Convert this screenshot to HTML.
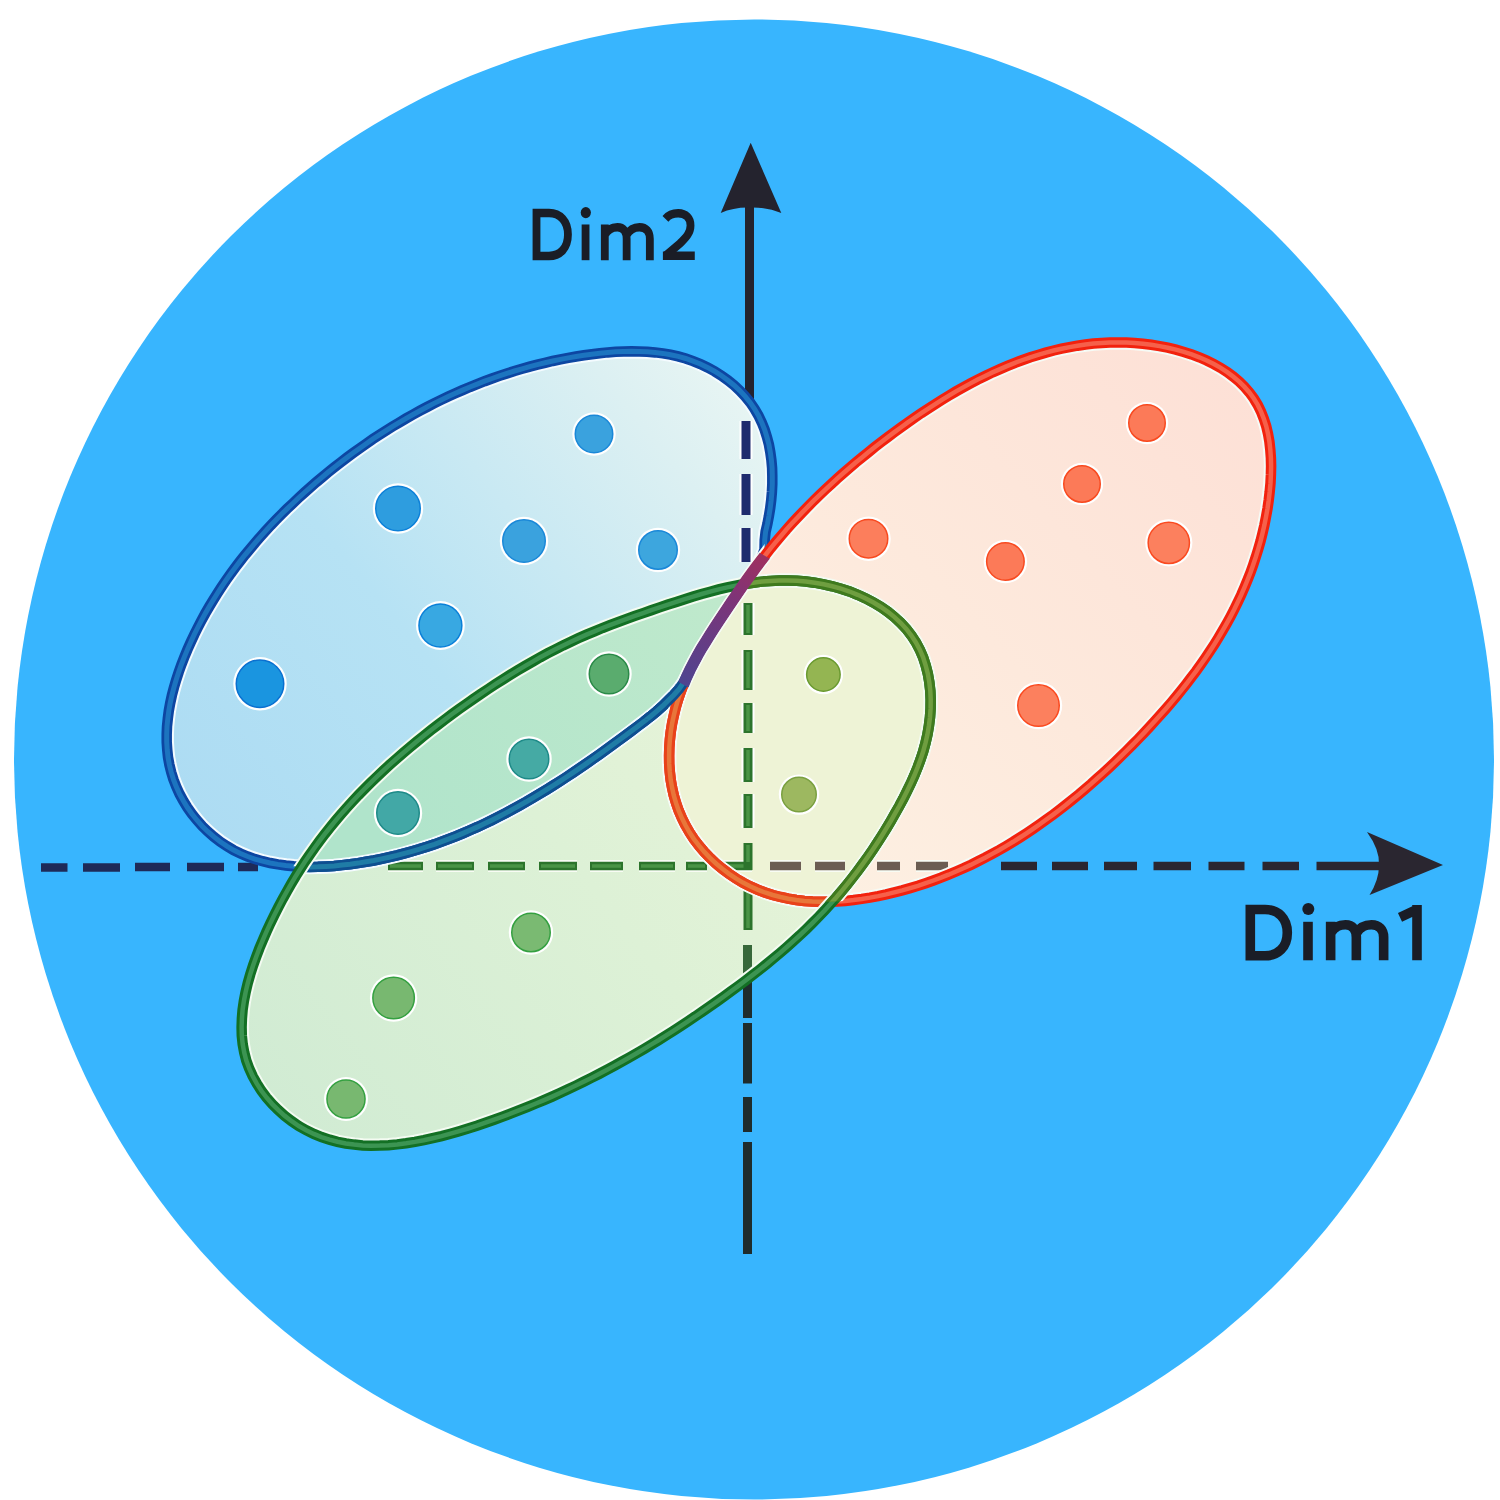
<!DOCTYPE html>
<html>
<head>
<meta charset="utf-8">
<style>
html,body{margin:0;padding:0;background:#fff;}
body{width:1500px;height:1500px;overflow:hidden;}
svg{display:block;}
.lbl{font-family:"Liberation Sans",sans-serif;font-weight:bold;fill:#1c2128;}
</style>
</head>
<body>
<svg width="1500" height="1500" viewBox="0 0 1500 1500">
<defs>
  <path id="eb" d="M173.5 779.6 171.2 772.2 169.4 764.8 168.0 757.2 167.2 749.6 166.7 742.0 166.7 734.2 167.0 726.5 167.8 718.7 168.8 710.9 170.2 703.1 171.9 695.3 173.9 687.6 176.2 679.8 178.7 672.1 181.4 664.5 184.4 656.9 187.5 649.4 190.8 642.0 194.2 634.7 197.8 627.5 201.5 620.4 205.3 613.4 209.3 606.5 213.4 599.7 217.6 593.0 221.9 586.4 226.3 579.9 230.8 573.5 235.5 567.2 240.2 561.0 245.1 554.8 250.1 548.8 255.1 542.8 260.3 536.9 265.5 531.1 270.8 525.3 276.2 519.7 281.7 514.1 287.3 508.6 293.0 503.2 298.7 497.8 304.5 492.5 310.4 487.3 316.3 482.1 322.3 477.1 328.4 472.0 334.5 467.1 340.7 462.3 347.0 457.5 353.4 452.8 359.8 448.2 366.2 443.7 372.7 439.2 379.3 434.9 386.0 430.6 392.7 426.4 399.4 422.4 406.2 418.4 413.1 414.5 420.0 410.7 427.0 407.0 434.0 403.4 441.1 399.9 448.2 396.5 455.4 393.3 462.6 390.1 469.9 387.0 477.2 384.1 484.6 381.2 492.0 378.5 499.4 375.9 506.9 373.4 514.5 371.0 522.1 368.8 529.7 366.6 537.3 364.6 545.0 362.8 552.7 361.0 560.5 359.4 568.3 357.9 576.1 356.5 584.0 355.3 591.9 354.2 599.8 353.2 607.7 352.4 615.7 351.8 623.6 351.4 631.5 351.3 639.4 351.4 647.3 351.7 655.1 352.4 662.9 353.4 670.5 354.7 678.2 356.4 685.7 358.5 693.1 361.1 700.4 364.0 707.5 367.4 714.5 371.2 721.3 375.5 727.8 380.2 734.0 385.2 739.8 390.6 745.2 396.4 750.1 402.4 754.5 408.8 758.4 415.5 761.7 422.4 764.6 429.6 766.9 437.0 768.9 444.5 770.3 452.2 771.4 460.1 772.1 468.0 772.3 476.0 772.3 484.0 771.9 492.1 771.2 500.2 770.2 508.2 768.9 516.1 767.4 524.0 765.6 531.7 764.7 540.2 764.5 549.3 762.1 556.8 758.6 563.4 754.0 570.0 749.6 576.0 745.4 582.0 740.7 588.7 736.0 595.4 731.9 601.5 727.4 608.3 722.8 615.1 718.8 621.2 714.3 628.0 710.0 634.8 705.7 641.7 701.5 648.5 697.9 654.8 694.0 661.9 690.4 669.0 686.9 676.2 683.4 682.8 679.0 689.1 673.8 695.0 668.2 700.5 662.7 706.0 656.8 711.2 650.8 716.2 644.6 721.1 638.2 725.9 631.8 730.7 625.4 735.5 618.9 740.2 612.4 745.0 605.9 749.7 599.4 754.4 592.9 759.0 586.3 763.6 579.7 768.1 573.1 772.6 566.5 777.0 559.8 781.3 553.2 785.5 546.5 789.7 539.7 793.8 533.0 797.8 526.2 801.8 519.4 805.6 512.5 809.4 505.6 813.1 498.7 816.7 491.7 820.2 484.7 823.6 477.6 826.9 470.5 830.0 463.4 833.1 456.2 836.1 449.0 838.9 441.7 841.6 434.4 844.3 427.0 846.7 419.6 849.1 412.1 851.3 404.5 853.4 396.9 855.4 389.3 857.2 381.6 858.9 373.8 860.5 366.0 861.8 358.1 863.1 350.1 864.2 342.1 865.1 334.1 865.9 326.0 866.4 317.9 866.8 309.8 866.9 301.7 866.7 293.7 866.3 285.8 865.5 277.9 864.4 270.2 863.0 262.5 861.2 255.0 859.1 247.7 856.5 240.5 853.5 233.5 850.1 226.8 846.1 220.3 841.8 214.0 836.9 208.0 831.7 202.3 826.2 197.0 820.2 192.0 814.0 187.4 807.5 183.3 800.8 179.5 793.9 176.3 786.8Z"/>
  <path id="eg" d="M246.3 1060.6 244.2 1052.4 242.7 1044.2 241.8 1035.7 241.6 1027.2 241.9 1018.5 242.6 1009.8 243.9 1001.0 245.6 992.2 247.7 983.4 250.2 974.5 253.0 965.7 256.1 957.0 259.4 948.3 263.0 939.7 266.7 931.2 270.5 922.9 274.5 914.7 278.6 906.7 282.7 898.9 287.0 891.2 291.3 883.6 295.7 876.2 300.3 868.9 304.9 861.7 309.7 854.7 314.6 847.7 319.6 840.9 324.7 834.1 330.0 827.5 335.4 820.9 340.9 814.4 346.6 807.9 352.4 801.5 358.3 795.2 364.4 789.0 370.6 782.8 376.9 776.7 383.3 770.7 389.8 764.7 396.4 758.8 403.1 753.0 409.9 747.2 416.7 741.6 423.6 736.0 430.6 730.4 437.7 725.0 444.8 719.6 451.9 714.3 459.1 709.1 466.3 704.0 473.6 698.9 480.9 693.9 488.2 689.0 495.5 684.2 502.9 679.5 510.3 674.8 517.7 670.3 525.2 665.9 532.7 661.6 540.2 657.3 547.8 653.2 555.4 649.3 563.1 645.4 570.9 641.7 578.7 638.1 586.5 634.6 594.5 631.3 602.4 628.0 610.5 624.9 618.6 621.8 626.7 618.9 634.9 615.9 643.1 613.1 651.3 610.2 659.6 607.4 668.0 604.6 676.3 601.9 684.7 599.2 693.1 596.6 701.6 594.0 710.1 591.7 718.6 589.4 727.2 587.4 735.8 585.6 744.4 584.0 753.1 582.7 761.8 581.6 770.5 580.9 779.3 580.5 788.1 580.4 797.0 580.8 805.9 581.5 814.7 582.7 823.6 584.3 832.3 586.3 841.0 588.7 849.5 591.5 857.7 594.8 865.7 598.4 873.5 602.5 880.9 607.0 887.9 611.8 894.5 617.1 900.6 622.8 906.3 628.9 911.4 635.5 915.9 642.4 919.8 649.7 923.1 657.4 925.7 665.5 927.8 673.7 929.3 682.2 930.3 690.9 930.7 699.6 930.6 708.4 930.0 717.2 928.9 725.9 927.4 734.6 925.5 743.0 923.2 751.4 920.5 759.6 917.5 767.6 914.3 775.5 910.8 783.3 907.1 790.9 903.3 798.5 899.3 806.0 895.1 813.4 890.9 820.8 886.5 828.2 882.0 835.5 877.4 842.7 872.7 849.8 867.8 856.9 862.8 863.9 857.7 870.8 852.5 877.6 847.1 884.4 841.6 891.1 836.0 897.7 830.2 904.2 824.4 910.7 818.4 917.0 812.2 923.3 806.0 929.4 799.6 935.5 793.1 941.4 786.5 947.3 779.8 953.1 773.0 958.8 766.2 964.4 759.2 970.0 752.2 975.4 745.2 980.8 738.1 986.1 731.0 991.3 723.9 996.5 716.7 1001.6 709.5 1006.6 702.3 1011.6 695.2 1016.5 687.9 1021.3 680.7 1026.1 673.4 1030.8 666.2 1035.4 658.9 1040.0 651.5 1044.4 644.1 1048.9 636.7 1053.2 629.3 1057.5 621.8 1061.7 614.2 1065.9 606.7 1069.9 599.0 1074.0 591.3 1077.9 583.6 1081.8 575.8 1085.6 568.0 1089.3 560.0 1093.0 552.1 1096.6 544.0 1100.1 535.9 1103.5 527.7 1106.9 519.4 1110.2 511.1 1113.4 502.6 1116.6 494.1 1119.7 485.5 1122.7 476.9 1125.7 468.1 1128.5 459.3 1131.2 450.5 1133.7 441.6 1136.1 432.7 1138.2 423.8 1140.2 414.9 1141.9 406.1 1143.3 397.2 1144.4 388.5 1145.2 379.8 1145.6 371.1 1145.7 362.6 1145.4 354.1 1144.6 345.8 1143.5 337.5 1141.8 329.5 1139.7 321.5 1137.1 313.8 1133.9 306.2 1130.2 298.8 1126.0 291.7 1121.2 284.8 1115.9 278.4 1110.2 272.3 1104.1 266.6 1097.6 261.4 1090.8 256.8 1083.6 252.7 1076.2 249.2 1068.5Z"/>
  <path id="er" d="M685.5 825.3 681.9 818.1 678.7 810.7 676.1 803.2 673.8 795.5 672.1 787.8 670.7 779.9 669.8 771.9 669.2 763.9 669.1 755.8 669.3 747.7 669.9 739.6 670.8 731.5 672.1 723.5 673.8 715.5 675.7 707.6 678.0 699.8 680.6 692.1 683.5 684.5 686.6 677.0 690.0 669.7 693.7 662.6 697.5 655.5 701.5 648.5 705.7 641.7 710.0 634.8 714.3 628.0 718.8 621.2 723.3 614.4 727.8 607.6 732.4 600.8 737.0 594.1 741.6 587.3 746.3 580.6 751.1 574.0 755.9 567.4 760.8 560.9 765.8 554.5 770.8 548.1 775.9 541.9 781.2 535.7 786.4 529.6 791.8 523.6 797.3 517.7 802.8 511.9 808.4 506.1 814.0 500.4 819.8 494.8 825.6 489.3 831.5 483.8 837.4 478.4 843.5 473.0 849.6 467.8 855.7 462.5 862.0 457.4 868.3 452.3 874.6 447.2 881.1 442.2 887.6 437.3 894.1 432.4 900.8 427.5 907.5 422.7 914.2 418.0 921.0 413.3 927.9 408.8 934.9 404.3 941.9 399.9 948.9 395.6 956.0 391.4 963.2 387.4 970.5 383.4 977.7 379.6 985.1 376.0 992.5 372.4 1000.0 369.1 1007.5 365.9 1015.0 362.8 1022.7 360.0 1030.3 357.3 1038.0 354.9 1045.8 352.6 1053.7 350.5 1061.5 348.7 1069.5 347.1 1077.4 345.7 1085.5 344.5 1093.5 343.6 1101.7 343.0 1109.8 342.6 1118.0 342.4 1126.3 342.6 1134.6 343.0 1142.9 343.7 1151.3 344.8 1159.6 346.1 1167.8 347.7 1175.9 349.6 1183.9 351.9 1191.7 354.4 1199.3 357.3 1206.7 360.5 1213.9 364.1 1220.7 367.9 1227.2 372.1 1233.4 376.7 1239.2 381.6 1244.5 386.9 1249.4 392.5 1253.8 398.5 1257.7 404.9 1261.0 411.6 1263.8 418.7 1266.2 426.1 1268.0 433.7 1269.4 441.6 1270.3 449.7 1270.9 457.9 1271.1 466.2 1270.9 474.7 1270.5 483.2 1269.7 491.7 1268.7 500.2 1267.5 508.6 1266.0 516.9 1264.4 525.1 1262.5 533.2 1260.5 541.3 1258.2 549.2 1255.8 557.0 1253.2 564.8 1250.5 572.5 1247.5 580.0 1244.4 587.5 1241.2 594.9 1237.7 602.2 1234.2 609.5 1230.5 616.6 1226.6 623.7 1222.6 630.7 1218.5 637.6 1214.3 644.4 1209.9 651.2 1205.4 657.9 1200.8 664.5 1196.1 671.1 1191.2 677.5 1186.3 684.0 1181.3 690.3 1176.2 696.6 1171.0 702.8 1165.7 709.0 1160.3 715.1 1154.9 721.1 1149.4 727.1 1143.8 733.1 1138.2 739.0 1132.5 744.8 1126.7 750.6 1120.9 756.3 1115.1 762.0 1109.2 767.6 1103.2 773.1 1097.1 778.5 1091.1 783.9 1084.9 789.2 1078.7 794.5 1072.4 799.6 1066.1 804.7 1059.7 809.7 1053.2 814.6 1046.7 819.3 1040.1 824.0 1033.5 828.6 1026.8 833.1 1020.0 837.5 1013.2 841.8 1006.3 845.9 999.3 850.0 992.2 853.9 985.1 857.7 978.0 861.3 970.7 864.9 963.4 868.3 956.0 871.5 948.5 874.7 941.0 877.7 933.4 880.5 925.7 883.2 918.0 885.8 910.1 888.1 902.2 890.4 894.3 892.4 886.2 894.4 878.1 896.1 869.9 897.6 861.7 898.9 853.5 900.0 845.3 900.9 837.0 901.5 828.8 901.8 820.6 901.8 812.5 901.5 804.3 900.9 796.3 900.0 788.3 898.7 780.5 897.0 772.7 895.0 765.0 892.5 757.5 889.6 750.1 886.3 742.9 882.6 735.8 878.4 729.0 873.8 722.4 868.8 716.0 863.5 710.0 857.8 704.3 851.9 699.0 845.6 694.0 839.1 689.5 832.3Z"/>
  <clipPath id="cb"><use href="#eb"/></clipPath>
  <clipPath id="cg"><use href="#eg"/></clipPath>
  <clipPath id="cr"><use href="#er"/></clipPath>
  <clipPath id="csplit"><path d="M700 660L706 672L666 726L636 716L640 700Z"/></clipPath>
  <clipPath id="cbw"><use href="#eb"/><use href="#eg"/></clipPath>
  <clipPath id="call"><use href="#eb"/><use href="#eg"/><use href="#er"/></clipPath>
  <linearGradient id="gb" gradientUnits="userSpaceOnUse" x1="200" y1="820" x2="740" y2="380">
    <stop offset="0" stop-color="#addcf3"/>
    <stop offset="0.4" stop-color="#b6e2f4"/>
    <stop offset="0.85" stop-color="#dcf0f2"/>
    <stop offset="1" stop-color="#e8f5f3"/>
  </linearGradient>
  <linearGradient id="gg" gradientUnits="userSpaceOnUse" x1="260" y1="1120" x2="900" y2="620">
    <stop offset="0" stop-color="#d0ebd3"/>
    <stop offset="0.5" stop-color="#ddf1d6"/>
    <stop offset="1" stop-color="#eef5da"/>
  </linearGradient>
  <linearGradient id="gr" gradientUnits="userSpaceOnUse" x1="700" y1="880" x2="1250" y2="370">
    <stop offset="0" stop-color="#fdf2e4"/>
    <stop offset="0.5" stop-color="#fde9dc"/>
    <stop offset="1" stop-color="#fde0d6"/>
  </linearGradient>
  <linearGradient id="gbg" gradientUnits="userSpaceOnUse" x1="380" y1="830" x2="720" y2="600">
    <stop offset="0" stop-color="#b0e4cb"/>
    <stop offset="1" stop-color="#bfe9cc"/>
  </linearGradient>
  <clipPath id="cpur"><path d="M773.7 560.8L742.3 543.2L668.3 676.2L699.7 693.8Z"/></clipPath>
  <linearGradient id="gpur" gradientUnits="userSpaceOnUse" x1="760" y1="552" x2="684" y2="686">
    <stop offset="0" stop-color="#a0305e"/>
    <stop offset="0.35" stop-color="#7e3478"/>
    <stop offset="1" stop-color="#4e4490"/>
  </linearGradient>
</defs>

<circle cx="754" cy="759.5" r="740" fill="#38b5fe"/>

<!-- fills -->
<use href="#eb" fill="url(#gb)"/>
<use href="#er" fill="url(#gr)"/>
<use href="#eg" fill="url(#gg)"/>
<g clip-path="url(#cb)"><use href="#eg" fill="url(#gbg)"/></g>
<g clip-path="url(#cr)"><use href="#eg" fill="#eef3d6"/></g>

<!-- horizontal axis -->
<g stroke-width="8.5" fill="none">
  <path stroke="#1e2a58" d="M41 867.5H67.5M83 867.5H120M135 867H170M187 867H224M238 867H258"/>
  <path stroke="#f8fcf4" stroke-width="12" d="M388 866H423M436 866H474M488 866H525M539 866H577M590 866H623M639 866H675M686 866H707M723.5 866H752M770 866H801M815 866H845M877 866H900M916 866H948"/>
  <path stroke="#2c742c" d="M388 866H423M436 866H474M488 866H525M539 866H577M590 866H623M639 866H675M686 866H707M723.5 866H752"/>
  <path stroke="#4a9446" stroke-width="3.5" d="M390 866H421M438 866H472M490 866H523M541 866H575M592 866H621M641 866H673M688 866H705M725.5 866H744"/>
  <path stroke="#6b5d52" d="M770 866H801M815 866H845M877 866H900M916 866H948"/>
  <path stroke="#2a2630" d="M1001 866H1037M1052 866H1088M1104 866H1137M1153.5 866H1191M1208.5 866H1244.5M1262.5 866H1299M1316.5 866H1385"/>
</g>
<path fill="#2a2630" d="M1443 865L1367 832Q1380 850 1379 865Q1379 880 1369.5 895Z"/>

<!-- vertical axis -->
<path stroke="#24232e" stroke-width="9" d="M749.5 205V400"/>
<path fill="#24232e" d="M750.7 142.7L781.3 213Q766 207 750 207.5Q734 207 720.7 213Z"/>
<g stroke-width="9" fill="none">
  <path stroke="#ffffff" stroke-width="13" d="M746 421V459M746 474V515M746 528V562M748 603V635M748 650V690M748 703V733M748 748V782M748 794V828"/>
  <path stroke="#1f2b6e" d="M746 421V459M746 474V515M746 528V562"/>
  <path stroke="#2c742c" d="M748 603V635M748 650V690M748 703V733M748 748V782M748 794V828M748 843V870M748 890V930"/>
  <path stroke="#4a9446" stroke-width="3.5" d="M748 605V633M748 652V688M748 705V731M748 750V780M748 796V826M748 845V862M748 892V928"/>
  <path stroke="#1f2c2c" d="M747.5 945V1018M747.5 1023V1083.5M747.5 1097V1132M747.5 1142V1254"/>
  <g clip-path="url(#cg)"><path stroke="#37683a" d="M747.5 945V1018"/></g>
</g>

<!-- strokes -->
<g fill="none">
  <g clip-path="url(#cbw)"><use href="#eb" stroke="#f4fbff" stroke-width="14.5"/></g>
  <use href="#eb" stroke="#0d46a2" stroke-width="10.5"/>
  <use href="#eb" stroke="#1c74bf" stroke-width="5"/>
  <g clip-path="url(#cg)"><use href="#eb" stroke="#0e4f90" stroke-width="10.5"/><use href="#eb" stroke="#1f7ca6" stroke-width="5"/></g>
  <g clip-path="url(#call)"><use href="#er" stroke="#f6fbf6" stroke-width="14.5"/></g>
  <use href="#er" stroke="#f2220e" stroke-width="10.5"/>
  <use href="#er" stroke="#f6604a" stroke-width="4.5"/>
  <g clip-path="url(#cg)"><use href="#er" stroke="#e8421a" stroke-width="10.5"/><use href="#er" stroke="#e8763a" stroke-width="4.5"/></g>
  <g clip-path="url(#csplit)"><use href="#eb" stroke="#0e4f90" stroke-width="10.5"/><use href="#eb" stroke="#1f7ca6" stroke-width="5"/></g>
  <g clip-path="url(#call)"><use href="#eg" stroke="#f4fbf2" stroke-width="14.5"/></g>
  <use href="#eg" stroke="#137024" stroke-width="10.5"/>
  <use href="#eg" stroke="#3c9452" stroke-width="4.5"/>
  <g clip-path="url(#cr)"><use href="#eg" stroke="#3f7a1e" stroke-width="10.5"/><use href="#eg" stroke="#6f9e40" stroke-width="4.5"/></g>
  <g clip-path="url(#cpur)"><use href="#er" stroke="url(#gpur)" stroke-width="11.5"/></g>
</g>

<!-- dots -->
<g>
  <circle cx="594" cy="434" r="21.7" fill="#fff"/><circle cx="594" cy="434" r="18.75" fill="#3aa2de" stroke="#1a88d8" stroke-width="1.5"/>
  <circle cx="398" cy="508.5" r="25.2" fill="#fff"/><circle cx="398" cy="508.5" r="22.25" fill="#2e9ddf" stroke="#0c80d8" stroke-width="1.5"/>
  <circle cx="524" cy="541" r="24.2" fill="#fff"/><circle cx="524" cy="541" r="21.25" fill="#3aa2de" stroke="#1a88d8" stroke-width="1.5"/>
  <circle cx="658" cy="550" r="22.2" fill="#fff"/><circle cx="658" cy="550" r="19.25" fill="#3da6de" stroke="#1a88d8" stroke-width="1.5"/>
  <circle cx="440.4" cy="625.5" r="24.4" fill="#fff"/><circle cx="440.4" cy="625.5" r="21.45" fill="#38a8e2" stroke="#0a80d8" stroke-width="1.5"/>
  <circle cx="260" cy="683.8" r="26.7" fill="#fff"/><circle cx="260" cy="683.8" r="23.75" fill="#1a95e0" stroke="#0a70d0" stroke-width="1.5"/>
  <circle cx="609" cy="674" r="22.7" fill="#fff"/><circle cx="609" cy="674" r="19.75" fill="#5aac6e" stroke="#2a8a48" stroke-width="1.5"/>
  <circle cx="529" cy="759" r="22.7" fill="#fff"/><circle cx="529" cy="759" r="19.75" fill="#45aaa4" stroke="#1e8a88" stroke-width="1.5"/>
  <circle cx="398" cy="813" r="24.2" fill="#fff"/><circle cx="398" cy="813" r="21.25" fill="#42a8a6" stroke="#1e8a88" stroke-width="1.5"/>
  <circle cx="531" cy="932.5" r="22.2" fill="#fff"/><circle cx="531" cy="932.5" r="19.25" fill="#7aba72" stroke="#34a040" stroke-width="1.5"/>
  <circle cx="393.6" cy="998" r="23.7" fill="#fff"/><circle cx="393.6" cy="998" r="20.75" fill="#78b870" stroke="#34a040" stroke-width="1.5"/>
  <circle cx="346" cy="1099" r="22.0" fill="#fff"/><circle cx="346" cy="1099" r="19.05" fill="#78b870" stroke="#34a040" stroke-width="1.5"/>
  <circle cx="823.4" cy="674.5" r="19.7" fill="#fff"/><circle cx="823.4" cy="674.5" r="16.75" fill="#94b552" stroke="#6a9a30" stroke-width="1.5"/>
  <circle cx="799" cy="794.6" r="20.2" fill="#fff"/><circle cx="799" cy="794.6" r="17.25" fill="#9db860" stroke="#7aa040" stroke-width="1.5"/>
  <circle cx="1147" cy="423" r="21.2" fill="#fff"/><circle cx="1147" cy="423" r="18.25" fill="#fc7a58" stroke="#f84a20" stroke-width="1.5"/>
  <circle cx="1082" cy="484" r="21.2" fill="#fff"/><circle cx="1082" cy="484" r="18.25" fill="#fc7a58" stroke="#f84a20" stroke-width="1.5"/>
  <circle cx="868.5" cy="538.7" r="22.2" fill="#fff"/><circle cx="868.5" cy="538.7" r="19.25" fill="#fc7e5c" stroke="#f84a20" stroke-width="1.5"/>
  <circle cx="1005.4" cy="561.5" r="21.7" fill="#fff"/><circle cx="1005.4" cy="561.5" r="18.75" fill="#fc7a58" stroke="#f84a20" stroke-width="1.5"/>
  <circle cx="1168.8" cy="542.8" r="23.6" fill="#fff"/><circle cx="1168.8" cy="542.8" r="20.65" fill="#fc805e" stroke="#fa4a20" stroke-width="1.5"/>
  <circle cx="1038.5" cy="705.5" r="23.7" fill="#fff"/><circle cx="1038.5" cy="705.5" r="20.75" fill="#fc805e" stroke="#fa4a20" stroke-width="1.5"/>
</g>

<!-- labels -->
<g fill="none" stroke="#1a1d26" stroke-width="10" stroke-linecap="butt" stroke-linejoin="miter">
  <g transform="translate(532 260.2) scale(0.85 0.928)" stroke-width="9.2">
    <path d="M5.3 -50.8H20C33 -50.8 42.3 -42 42.3 -27.6C42.3 -13 33 -4.5 20 -4.5H5.3Z"/>
    <path d="M63 -38.5V0"/><circle cx="63.3" cy="-51.3" r="6" fill="#1a1d26" stroke="none"/>
    <path d="M85.65 -38.5V0M85.65 -27C90 -35 96 -35.5 100.5 -35.5C107.5 -35.5 111.35 -31 111.35 -23V0M111.35 -27C116 -35 122 -35.5 126.5 -35.5C134 -35.5 138.65 -31 138.65 -23V0"/>
    <path d="M157 -44.5C160.5 -48.5 166 -50.5 172 -50.5C181 -50.5 186.5 -45 186.5 -37.5C186.5 -30 182 -25 174 -18L158 -5.5"/><path d="M154 -4.7H191.5"/>
  </g>
  <g transform="translate(1245 960.3)" stroke-width="9.6">
    <path d="M5.3 -50.8H20C33 -50.8 42.3 -42 42.3 -27.6C42.3 -13 33 -4.5 20 -4.5H5.3Z"/>
    <path d="M63 -38.5V0"/><circle cx="63.3" cy="-51.3" r="6" fill="#1a1d26" stroke="none"/>
    <path d="M85.65 -38.5V0M85.65 -27C90 -35 96 -35.5 100.5 -35.5C107.5 -35.5 111.35 -31 111.35 -23V0M111.35 -27C116 -35 122 -35.5 126.5 -35.5C134 -35.5 138.65 -31 138.65 -23V0"/>
    <path d="M172 -55.3V0M172 -51L155 -43"/>
  </g>
</g>
</svg>
</body>
</html>
